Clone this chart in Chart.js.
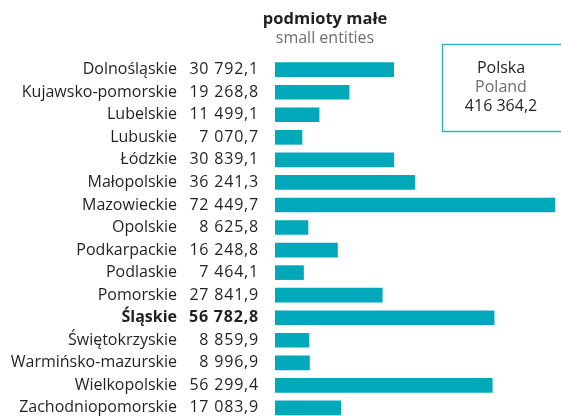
<!DOCTYPE html>
<html>
<head>
<meta charset="utf-8">
<script src="https://cdn.jsdelivr.net/npm/chart.js@4/dist/chart.umd.min.js"></script>
<style>
  html, body { margin: 0; padding: 0; background: #fff; overflow: hidden; }
  #wrap { width: 561px; height: 416px; }
</style>
</head>
<body>
<div id="wrap"><canvas id="myChart" width="561" height="416"></canvas></div>
<script>
var regions = ["Dolnośląskie", "Kujawsko-pomorskie", "Lubelskie", "Lubuskie", "Łódzkie",
  "Małopolskie", "Mazowieckie", "Opolskie", "Podkarpackie", "Podlaskie", "Pomorskie",
  "Śląskie", "Świętokrzyskie", "Warmińsko-mazurskie", "Wielkopolskie", "Zachodniopomorskie"];
var smallEntities = [30792.1, 19268.8, 11499.1, 7070.7, 30839.1, 36241.3, 72449.7, 8625.8,
  16248.8, 7464.1, 27841.9, 56782.8, 8859.9, 8996.9, 56299.4, 17083.9];
var highlighted = "Śląskie";
var titlePl = "podmioty małe";
var titleEn = "small entities";
var totalPl = "Polska";
var totalEn = "Poland";
var totalValue = 416364.2;

var FONT = "'Open Sans', sans-serif";
var TEXT = "#231f20";
var GREY = "#6d6e70";
var TEAL = "#00a9b9";

function fmt(v) {
  var parts = v.toFixed(1).split(".");
  return parts[0].replace(/\B(?=(\d{3})+(?!\d))/g, " ") + "," + parts[1];
}

var labelsPlugin = {
  id: "labels",
  afterDraw: function (chart) {
    var ctx = chart.ctx;
    var yScale = chart.scales.y;
    ctx.save();
    ctx.textBaseline = "middle";
    ctx.fillStyle = TEXT;
    ctx.textAlign = "right";
    regions.forEach(function (name, i) {
      var y = yScale.getPixelForValue(i);
      var bold = name === highlighted;
      ctx.font = (bold ? "bold " : "") + "16px " + FONT;
      ctx.letterSpacing = "0px";
      ctx.fillText(name, 177, y);
      ctx.letterSpacing = "0.8px";
      ctx.fillText(fmt(smallEntities[i]), 259, y);
    });
    ctx.letterSpacing = "0px";

    // header
    ctx.textAlign = "center";
    ctx.font = "bold 16.5px " + FONT;
    ctx.fillText(titlePl, 325, 19);
    ctx.fillStyle = GREY;
    ctx.font = "16px " + FONT;
    ctx.fillText(titleEn, 325, 38);

    // total box
    ctx.strokeStyle = "#2bb6c3";
    ctx.lineWidth = 1.5;
    ctx.strokeRect(442.5, 44.5, 130, 87);
    ctx.font = "16px " + FONT;
    ctx.fillStyle = TEXT;
    ctx.fillText(totalPl, 501, 68);
    ctx.fillStyle = GREY;
    ctx.fillText(totalEn, 501, 87);
    ctx.fillStyle = TEXT;
    ctx.fillText(fmt(totalValue), 501, 106);
    ctx.restore();
  }
};

var ctx = document.getElementById('myChart').getContext('2d');
var myChart = new Chart(ctx, {
  type: 'bar',
  data: {
    labels: regions,
    datasets: [{
      data: smallEntities,
      backgroundColor: TEAL,
      borderWidth: 0,
      categoryPercentage: 1,
      barPercentage: 0.65,
      clip: false
    }]
  },
  options: {
    indexAxis: 'y',
    responsive: false,
    animation: false,
    layout: { padding: { left: 275, right: 6, top: 69.7, bottom: 8.1 } },
    scales: {
      x: { display: false, min: 0, max: 72449.7 },
      y: { display: false, offset: false }
    },
    plugins: { legend: { display: false }, tooltip: { enabled: false } }
  },
  plugins: [labelsPlugin]
});
</script>
</body>
</html>
